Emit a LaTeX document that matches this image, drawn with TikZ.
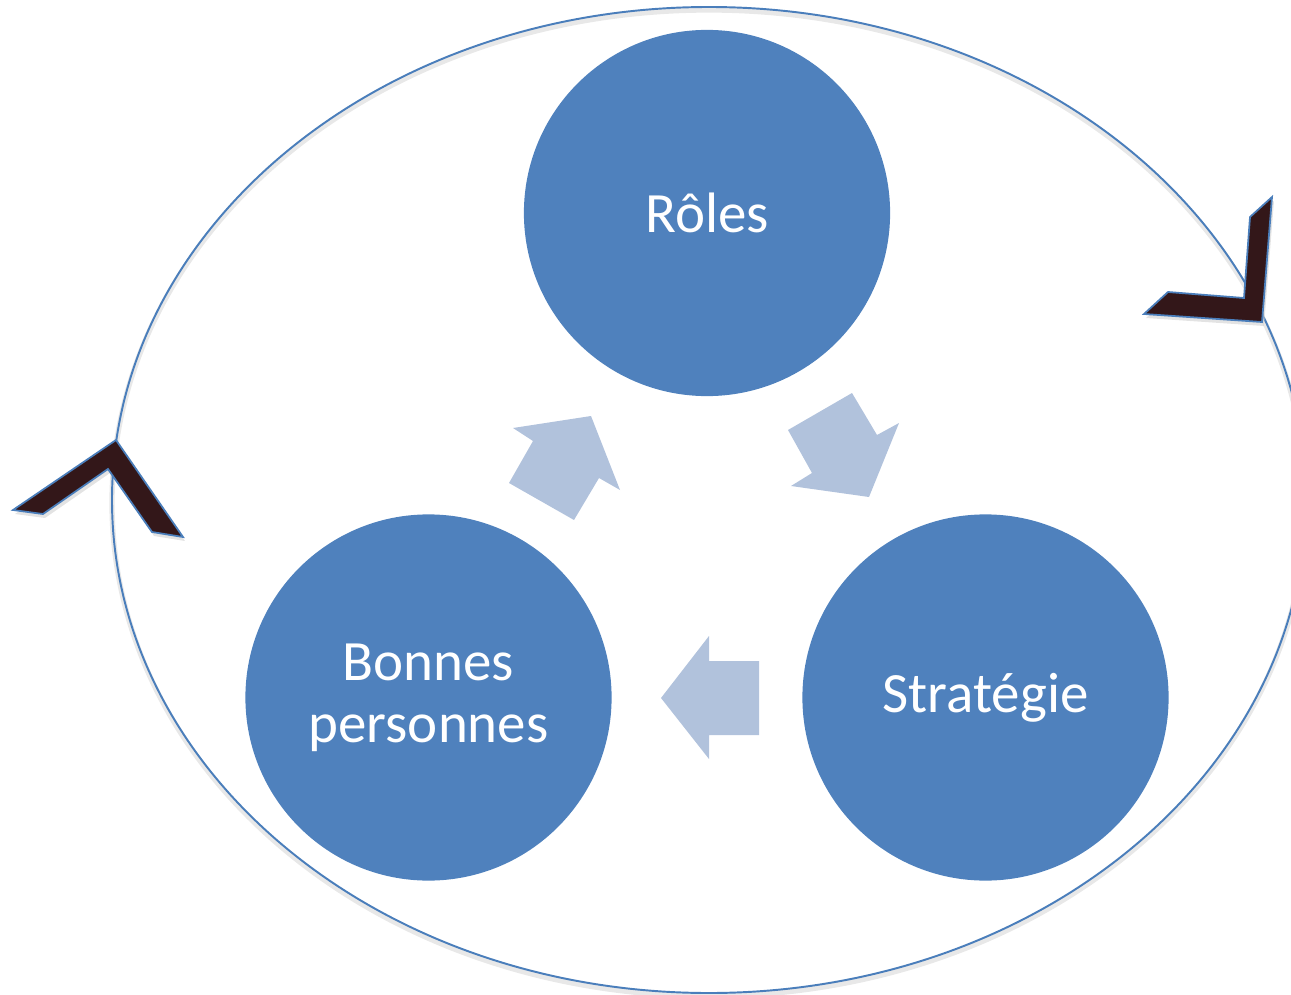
\documentclass[tikz,border=0pt]{standalone}
\usepackage{fontspec}
\setmainfont{Carlito}
\definecolor{circblue}{HTML}{4F81BD}
\definecolor{arrblue}{HTML}{B1C2DC}
\definecolor{chevdark}{HTML}{331719}
\definecolor{linblue}{HTML}{4A7EBB}
\begin{document}
\begin{tikzpicture}[x=0.01cm,y=-0.01cm,
  bubble/.style={circle,fill=circblue,minimum size=3.66cm,inner sep=0pt,text=white,align=center,
    font=\fontsize{16.2}{17.6}\selectfont},
  flow/.style={fill=arrblue,draw=none},
  chev/.style={fill=chevdark,draw=linblue,line width=0.5pt,line join=miter},
  shade/.style={fill=black!18,draw=none,opacity=0.6}]
\useasboundingbox (0,0) rectangle (1291,994);
% outer ring with faint shadow
\draw[black!9,line width=1.5pt] (709,503) ellipse [x radius=597,y radius=493];
\draw[linblue,line width=0.55pt] (709,500) ellipse [x radius=597,y radius=493];
% circles
\node[bubble] (roles) at (707,213) {Rôles};
\node[bubble] (bonnes) at (428.5,697.5) {Bonnes\\personnes};
\node[bubble] (strat) at (985.5,697.5) {Stratégie};
% flow arrows
\fill[flow] (513,428) -- (591,416) -- (620,490) -- (599,478) -- (574,520) -- (509,483) -- (533,441) -- cycle;
\fill[flow] (852,393) -- (877,435) -- (899,423) -- (869,497) -- (791,486) -- (812,473) -- (788,430) -- cycle;
\fill[flow] (661,698) -- (709,636) -- (709,661) -- (759,661) -- (759,735) -- (709,735) -- (709,759) -- cycle;
% chevrons (shadow then shape)
\fill[shade] (118,444) -- (185,541) -- (154,536) -- (110,473) -- (45,518) -- (15,514) -- cycle;
\draw[chev] (116,440) -- (183,537) -- (152,532) -- (108,469) -- (43,514) -- (13,510) -- cycle;
\fill[shade] (1274,201) -- (1264,326) -- (1146,318) -- (1170,296) -- (1246,302) -- (1252,221) -- cycle;
\draw[chev] (1272,197) -- (1262,322) -- (1144,314) -- (1168,292) -- (1244,298) -- (1250,217) -- cycle;
\end{tikzpicture}
\end{document}
